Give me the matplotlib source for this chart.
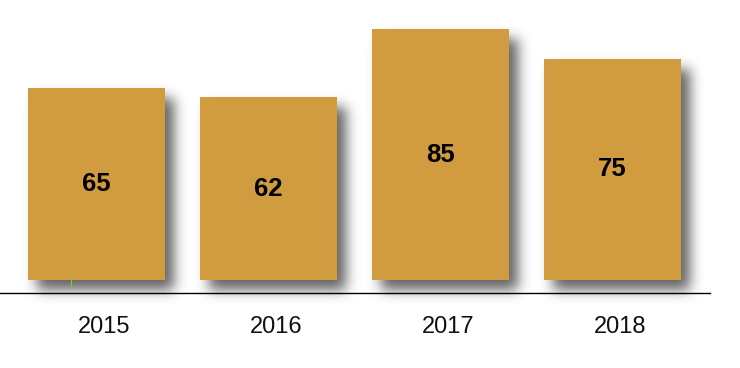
import matplotlib
matplotlib.use("Agg")
import matplotlib.pyplot as plt
import numpy as np

years = ["2015", "2016", "2017", "2018"]
values = [65, 62, 85, 75]

bar_color = "#D19B40"
plt.rcParams['font.family'] = ['Liberation Sans', 'DejaVu Sans']

W, H = 740, 368
fig = plt.figure(figsize=(W / 100, H / 100), dpi=100)
# axes: x from 0 to 710 px, y from top 0 to 293 px (bottom spine = axis line)
ax = fig.add_axes([0, 1 - 293 / H, 710 / W, 293 / H])
ax.patch.set_visible(False)

px_x = 172.0   # pixels per x unit
px_y = 2.95    # pixels per y unit
ax.set_xlim(-96.5 / px_x, (710 - 96.5) / px_x)
ax.set_ylim(-13 / px_y, 280 / px_y)

xs = list(range(len(values)))
width = 137 / px_x

ax.bar(xs, values, width=width, color=bar_color, zorder=3)

# blurred drop shadow: mask of the bars in pixel space, shifted and blurred
off_x, off_y, sigma = 9, 10, 6.5
mask = np.zeros((H, W))
for x, v in zip(xs, values):
    (x0, y0), (x1, y1) = ax.transData.transform([(x - width / 2, 0), (x + width / 2, v)])
    c0, c1 = int(round(x0)) + off_x, int(round(x1)) + off_x
    r0, r1 = int(round(H - y1)) + off_y, int(round(H - y0)) + off_y
    mask[max(r0, 0):min(r1, H), max(c0, 0):min(c1, W)] = 1.0
t = np.arange(-int(3 * sigma), int(3 * sigma) + 1)
kern = np.exp(-t ** 2 / (2 * sigma ** 2))
kern /= kern.sum()
blur = np.apply_along_axis(lambda r: np.convolve(r, kern, mode="same"), 1, mask)
blur = np.apply_along_axis(lambda c: np.convolve(c, kern, mode="same"), 0, blur)
rgba = np.zeros((H, W, 4))
rgba[..., :3] = 0.12
rgba[..., 3] = 0.7 * blur
fig.figimage(rgba, xo=0, yo=0, origin="upper", zorder=-1)

for x, v in zip(xs, values):
    ax.text(x, v / 2, str(v), ha="center", va="center", fontsize=18.5,
            fontweight="bold", color="black", zorder=4)

# tiny green mark near the first bar
ax.plot([(70.7 - 96.5) / px_x] * 2, [5 / px_y, -6 / px_y], color="#8cc63f",
        lw=0.8, zorder=4, clip_on=False)

for x, y in zip(xs, years):
    ax.text(x + 8 / px_x, -47 / px_y, y, ha="center", va="center",
            fontsize=17, color="#111111", clip_on=False)

for s in ["top", "right", "left"]:
    ax.spines[s].set_visible(False)
ax.spines["bottom"].set_linewidth(1.0)
ax.spines["bottom"].set_color("black")
ax.spines["bottom"].set_zorder(5)
ax.set_xticks([])
ax.set_yticks([])

fig.savefig("out.png", dpi=100)
